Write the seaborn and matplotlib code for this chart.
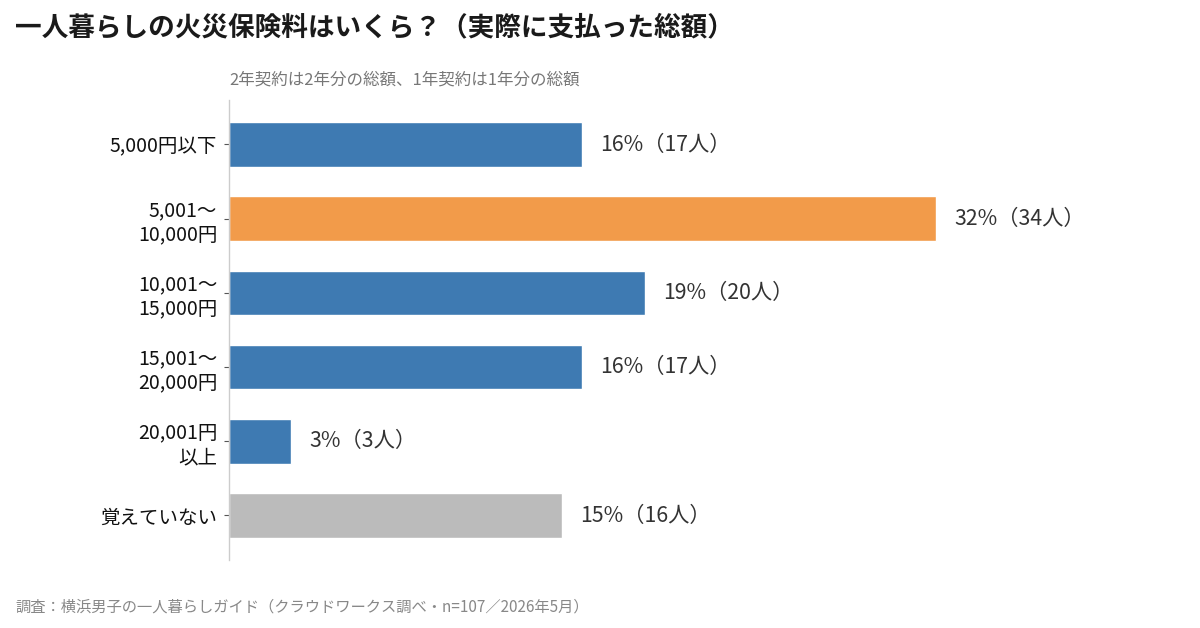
import matplotlib
matplotlib.use("Agg")
import matplotlib.pyplot as plt
import pandas as pd
import seaborn as sns

# データ
categories = ["5,000円以下", "5,001〜\n10,000円", "10,001〜\n15,000円",
              "15,001〜\n20,000円", "20,001円\n以上", "覚えていない"]
counts = [17, 34, 20, 17, 3, 16]
pct_labels = [16, 32, 19, 16, 3, 15]
total_n = 107
bar_colors = ["#3E7AB2", "#F29B4A", "#3E7AB2", "#3E7AB2", "#3E7AB2", "#BBBBBB"]

df = pd.DataFrame({"cat": categories, "n": counts, "pct_label": pct_labels})
df["pct"] = df["n"] / total_n * 100

sns.set_theme(style="white")
plt.rcParams["font.family"] = ["Noto Sans CJK JP", "DejaVu Sans"]

fig = plt.figure(figsize=(12, 6.28), dpi=100)
ax = fig.add_axes([0.1908, 0.1083, 0.7417, 0.7325])

sns.barplot(data=df, x="pct", y="cat", hue="cat", palette=bar_colors,
            orient="h", width=0.6, legend=False, ax=ax, saturation=1)

for i, row in df.iterrows():
    ax.annotate("{}%（{}人）".format(row["pct_label"], row["n"]),
                xy=(row["pct"], i), xytext=(13, 0), textcoords="offset points",
                va="center", ha="left", fontsize=15.3, color="#333333")

ax.set_xlim(0, 40)
ax.set_ylim(5.6, -0.6)
ax.set_xlabel("")
ax.set_ylabel("")
ax.set_xticks([])
ax.tick_params(axis="y", length=3.5, width=0.8, color="#555555", pad=5,
               labelsize=14, labelcolor="#111111", left=True)
for lab in ax.get_yticklabels():
    lab.set_linespacing(1.2)

for s in ["top", "right", "bottom"]:
    ax.spines[s].set_visible(False)
ax.spines["left"].set_color("#CCCCCC")
ax.spines["left"].set_linewidth(1)

fig.text(15 / 1200, 1 - 28 / 628, "一人暮らしの火災保険料はいくら？（実際に支払った総額）",
         fontsize=19.2, fontweight="bold", color="#1A1A1A", va="center", ha="left")
fig.text(229 / 1200, 1 - 80 / 628, "2年契約は2年分の総額、1年契約は1年分の総額",
         fontsize=11.9, color="#777777", va="center", ha="left")
fig.text(15 / 1200, 1 - 607 / 628,
         "調査：横浜男子の一人暮らしガイド（クラウドワークス調べ・n=107／2026年5月）",
         fontsize=11, color="#888888", va="center", ha="left")

fig.savefig("out.png", dpi=100)
